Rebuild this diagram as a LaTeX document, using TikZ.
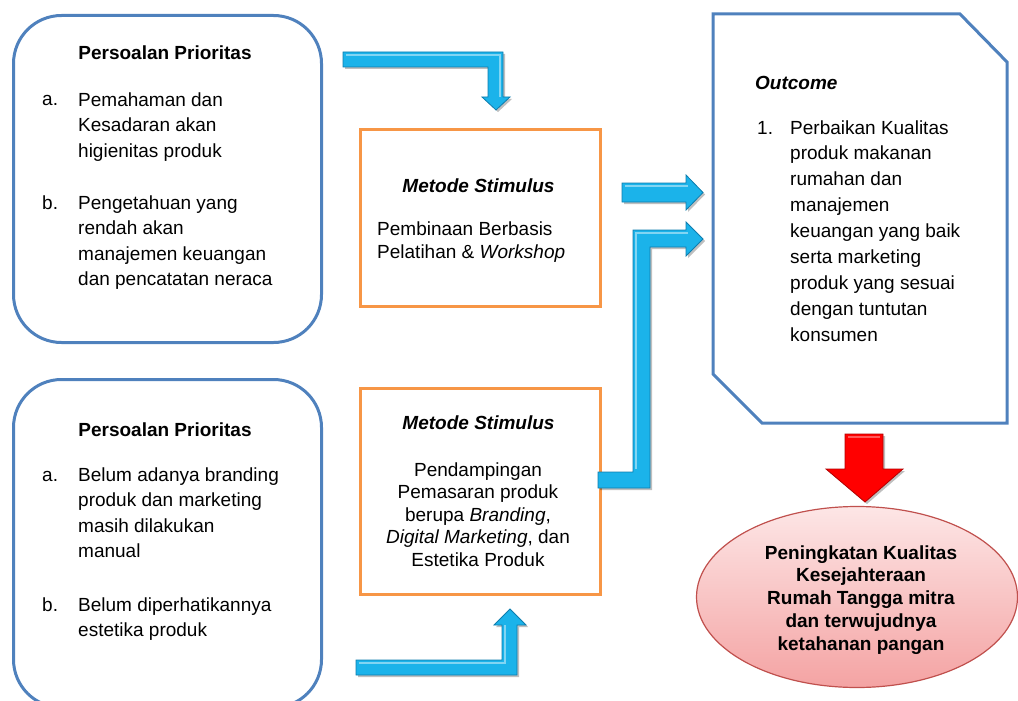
\documentclass[tikz,border=0pt]{standalone}
\usepackage{fontspec}
\setmainfont{Liberation Sans}
\usetikzlibrary{shapes.geometric,shadows}
\definecolor{boxblue}{HTML}{4F81BD}
\definecolor{boxorange}{HTML}{F79646}
\definecolor{arrowblue}{HTML}{1BB3EA}
\definecolor{arrowedge}{HTML}{0E7DAE}
\definecolor{ellred}{HTML}{C0504D}
\definecolor{pinktop}{HTML}{FDE6E6}
\definecolor{pinkbot}{HTML}{F4A3A3}
\begin{document}
\begin{tikzpicture}[x=1pt,y=-1pt,
  bluebox/.style={draw=boxblue, line width=3pt, rounded corners=48pt, inner sep=0pt, anchor=north west, minimum width=308pt},
  orangebox/.style={draw=boxorange, line width=3pt, inner sep=0pt, anchor=north west, minimum width=240pt},
  txt/.style={font=\fontsize{19}{25.6}\selectfont, inner sep=0pt, align=left, anchor=base west},
  ttl/.style={font=\fontsize{19}{23}\selectfont\bfseries, inner sep=0pt, anchor=base},
  blockarrow/.style={fill=arrowblue, draw=arrowedge, line width=0.8pt, line join=miter,
     drop shadow={shadow xshift=2pt, shadow yshift=-2pt, opacity=0.25, fill=black}},
  redarrow/.style={fill=red, draw=red!70!black, line width=0.8pt,
     drop shadow={shadow xshift=2pt, shadow yshift=-2pt, opacity=0.25, fill=black}}]
\useasboundingbox (0,0) rectangle (1018,701);

% left rounded boxes
\node[bluebox, minimum height=327pt] (p1) at (12,14) {};
\node[bluebox, minimum height=328pt] (p2) at (12,378) {};

% orange boxes
\node[orangebox, minimum height=177pt] (m1) at (359,128) {};
\node[orangebox, minimum height=206pt] (m2) at (359,387) {};

% outcome shape
\draw[boxblue, line width=3pt, line join=miter]
  (713,14) -- (960,14) -- (1007,62) -- (1007,423) -- (762,423) -- (713,374) -- cycle;

% ellipse
\node[ellipse, draw=ellred, line width=1.2pt, top color=pinktop, bottom color=pinkbot,
  minimum width=321pt, minimum height=181pt, inner sep=0pt] (goal) at (857,597) {};

% blue block arrows
\draw[blockarrow] (343,52) -- (503,52) -- (503,97) -- (510,97) -- (496,110) -- (482,97)
  -- (488,97) -- (488,67) -- (343,67) -- cycle;
\draw[blockarrow] (622,183) -- (686,183) -- (686,175) -- (703,192.5) -- (686,210)
  -- (686,202) -- (622,202) -- cycle;
\draw[blockarrow] (598,472) -- (633,472) -- (633,230) -- (686,230) -- (686,222)
  -- (703,239) -- (686,256) -- (686,247) -- (650,247) -- (650,488) -- (598,488) -- cycle;
\draw[blockarrow] (356,660) -- (502,660) -- (502,625) -- (494,625) -- (510,609)
  -- (526,625) -- (517,625) -- (517,675) -- (356,675) -- cycle;
% highlights
\draw[white, opacity=0.45, line width=1.2pt] (346,55) -- (500,55) -- (500,97);
\draw[white, opacity=0.45, line width=1.2pt] (625,186) -- (688,186);
\draw[white, opacity=0.45, line width=1.2pt] (636,469) -- (636,233) -- (688,233);
\draw[white, opacity=0.45, line width=1.2pt] (359,663) -- (505,663) -- (505,625);

% red arrow
\draw[redarrow] (845,434) -- (883,434) -- (883,469) -- (903,469) -- (865,502)
  -- (826,469) -- (845,469) -- cycle;
\draw[white, opacity=0.35, line width=1.2pt] (848,437) -- (880,437);

% texts box 1 (anchor = baseline of the last line)
\node[ttl] (p1t) at (165,60) {Persoalan Prioritas};
\node[txt] (p1al) at (42,106) {a.};
\node[txt] (p1a) at (78,157.2) {Pemahaman dan\\Kesadaran akan\\higienitas produk};
\node[txt] (p1bl) at (42,209) {b.};
\node[txt] (p1b) at (78,285.8) {Pengetahuan yang\\rendah akan\\manajemen keuangan\\dan pencatatan neraca};

% texts box 2
\node[ttl] (p2t) at (165,436) {Persoalan Prioritas};
\node[txt] (p2al) at (42,481) {a.};
\node[txt] (p2a) at (78,557.8) {Belum adanya branding\\produk dan marketing\\masih dilakukan\\manual};
\node[txt] (p2bl) at (42,611) {b.};
\node[txt] (p2b) at (78,636.6) {Belum diperhatikannya\\estetika produk};

% texts orange 1
\node[ttl, font=\fontsize{19}{23}\selectfont\bfseries\itshape] (m1t) at (478.5,192) {Metode Stimulus};
\node[txt, font=\fontsize{19}{23}\selectfont] (m1x) at (377,258) {Pembinaan Berbasis\\Pelatihan \& \textit{Workshop}};

% texts orange 2
\node[ttl, font=\fontsize{19}{23}\selectfont\bfseries\itshape] (m2t) at (478.5,429) {Metode Stimulus};
\node[font=\fontsize{19}{22.5}\selectfont, inner sep=0pt, align=center, anchor=base] (m2x) at (478,566)
  {Pendampingan\\Pemasaran produk\\berupa \textit{Branding},\\\textit{Digital Marketing}, dan\\Estetika Produk};

% outcome texts
\node[txt, font=\fontsize{19}{23}\selectfont\bfseries\itshape] (ot) at (755,89) {Outcome};
\node[txt, font=\fontsize{19}{25.9}\selectfont] (o1l) at (757,134) {1.};
\node[txt, font=\fontsize{19}{25.9}\selectfont] (o1) at (790,341.2)
  {Perbaikan Kualitas\\produk makanan\\rumahan dan\\manajemen\\keuangan yang baik\\serta marketing\\produk yang sesuai\\dengan tuntutan\\konsumen};

% ellipse text
\node[font=\fontsize{19}{22.8}\selectfont\bfseries, inner sep=0pt, align=center, anchor=base] (gt) at (861,650.2)
  {Peningkatan Kualitas\\Kesejahteraan\\Rumah Tangga mitra\\dan terwujudnya\\ketahanan pangan};
\end{tikzpicture}
\end{document}
